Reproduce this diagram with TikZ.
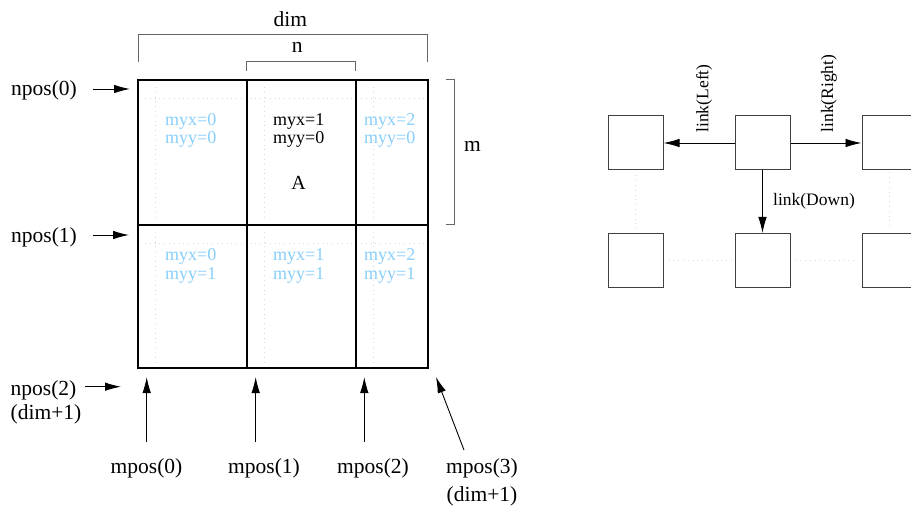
\documentclass[tikz,border=0pt]{standalone}
\usepackage{fontspec}
\setmainfont{Liberation Serif}
\usetikzlibrary{arrows.meta}
\definecolor{cellblue}{RGB}{135,206,250}
\definecolor{ghost}{RGB}{215,215,215}
\begin{document}
\begin{tikzpicture}[x=1pt,y=-1pt,
  lbl/.style={font=\fontsize{21.5}{24}\selectfont, inner sep=0pt},
  cell/.style={font=\fontsize{18}{18.3}\selectfont, align=center, inner sep=0pt, text=cellblue},
  cellA/.style={font=\fontsize{20}{20}\selectfont, inner sep=0pt},
  gridline/.style={line width=1.6pt},
  brk/.style={draw=black!60, line width=1pt},
  ghostline/.style={draw=ghost, dash pattern=on 0.8pt off 4pt, line width=0.8pt},
  arr/.style={-{Latex[length=16pt,width=8.5pt]}, line width=0.9pt},
  box/.style={draw=black!75, line width=1pt, minimum width=55pt, minimum height=54pt, inner sep=0pt},
  small/.style={font=\fontsize{17.5}{18}\selectfont, inner sep=0pt}]
\clip (0,0) rectangle (911,513);

% ghost dotted lines
\foreach \x in {155,264,373} {
  \draw[ghostline] (\x,87) -- (\x,221);
  \draw[ghostline] (\x,232) -- (\x,366);
}
\draw[ghostline] (145,98) -- (425,98);
\draw[ghostline] (145,243) -- (425,243);

% grid
\draw[gridline] (138,80) rectangle (428,368);
\draw[gridline] (247,80) -- (247,368);
\draw[gridline] (356,80) -- (356,368);
\draw[gridline] (138,225) -- (428,225);

% brackets
\draw[brk] (138,61.7) -- (138,34.3) -- (427.5,34.3) -- (427.5,61.7);
\draw[brk] (246.7,70.7) -- (246.7,61.7) -- (355.7,61.7) -- (355.7,70.7);
\draw[brk] (446,80) -- (454,80) -- (454,224.3) -- (446,224.3);
\node[lbl] (dim) at (290.3,18.9) {dim};
\node[lbl] (n) at (297.2,47.4) {n};
\node[lbl] (m) at (472.5,146.7) {m};

% cell labels
\node[cell] (c00) at (190.8,130.7) {myx=0\\myy=0};
\node[cell, text=black] (c01) at (298.8,130.7) {myx=1\\myy=0};
\node[cell] (c02) at (389.8,130.7) {myx=2\\myy=0};
\node[cell] (c10) at (190.8,265.9) {myx=0\\myy=1};
\node[cell] (c11) at (298.8,265.9) {myx=1\\myy=1};
\node[cell] (c12) at (389.8,265.9) {myx=2\\myy=1};
\node[cellA] (A) at (298.5,183.3) {A};

% npos labels
\coordinate (tn0) at (130,89);
\coordinate (tn1) at (129,235);
\coordinate (tn2) at (121,386.7);
\node[lbl] (np0) at (44,90) {npos(0)};
\node[lbl] (np1) at (44,237) {npos(1)};
\node[lbl] (np2) at (43.5,390) {npos(2)};
\node[lbl] (np2d) at (46,414) {(dim+1)};
\draw[arr] (93,89) -- (tn0);
\draw[arr] (93,235) -- (tn1);
\draw[arr] (85,386.7) -- (tn2);

% mpos labels
\coordinate (tm0) at (146.7,377);
\coordinate (tm1) at (255.7,377);
\coordinate (tm2) at (364.3,377);
\coordinate (tm3) at (436,377);
\node[lbl] (mp0) at (146.5,468) {mpos(0)};
\node[lbl] (mp1) at (264,468) {mpos(1)};
\node[lbl] (mp2) at (373,468) {mpos(2)};
\node[lbl] (mp3) at (482,468) {mpos(3)};
\node[lbl] (mp3d) at (482,496) {(dim+1)};
\coordinate (sm0) at (146.7,442);
\coordinate (sm1) at (255.7,442);
\coordinate (sm2) at (364.3,442);
\coordinate (sm3) at (464,450);
\draw[arr] (sm0) -- (tm0);
\draw[arr] (sm1) -- (tm1);
\draw[arr] (sm2) -- (tm2);
\draw[arr] (sm3) -- (tm3);

% right graph
\node[box] (b1) at (635.5,143) {};
\node[box] (b2) at (762.5,143) {};
\node[box] (b3) at (889.5,143) {};
\node[box] (b4) at (635.5,260.5) {};
\node[box] (b5) at (762.5,260.5) {};
\node[box] (b6) at (889.5,260.5) {};
\draw[arr] (b2.west) -- (b1.east);
\draw[arr] (b2.east) -- (b3.west);
\draw[arr] (b2.south) -- (b5.north);
\draw[ghostline] ([yshift=-5pt]b1.south) -- (b4.north);
\draw[ghostline] ([yshift=-2pt]b3.south) -- ([yshift=5pt]b6.north);
\draw[ghostline] ([xshift=5pt]b4.east) -- ([xshift=-3pt]b5.west);
\draw[ghostline] ([xshift=5pt]b5.east) -- ([xshift=-4pt]b6.west);
\node[small, rotate=90] (lL) at (704,98.5) {link(Left)};
\node[small, rotate=90] (lR) at (829,93.5) {link(Right)};
\node[small] (lD) at (814,201) {link(Down)};
\end{tikzpicture}
\end{document}
